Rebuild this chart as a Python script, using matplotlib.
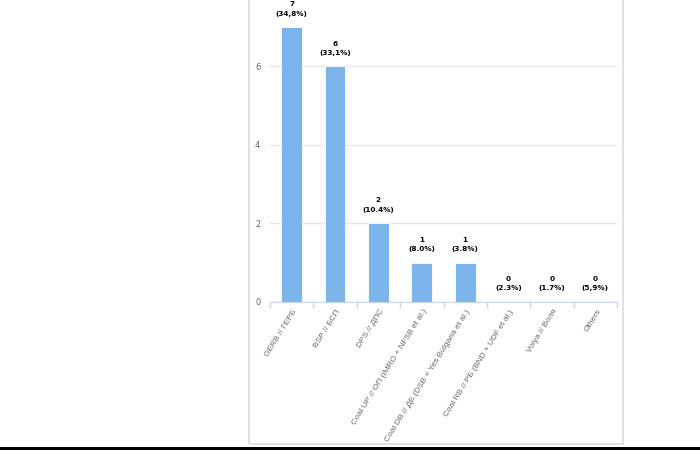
import matplotlib
matplotlib.use("Agg")
import matplotlib.pyplot as plt
import matplotlib.patches as patches
import matplotlib.transforms as mtransforms

# seats per party
parties = ["GERB // ГЕРБ", "BSP // БСП", "DPS // ДПС",
           "Coal UP // ОП (IMRO + NFSB et al.)",
           "Coal DB // ДБ (DSB + Yes Bulgaria et al.)",
           "Coal RB // РБ (BND + UDF et al.)",
           "Volya // Воля", "Others"]
seats = [7, 6, 2, 1, 1, 0, 0, 0]
shares = ["34,8%", "33,1%", "10.4%", "8.0%", "3.8%", "2.3%", "1.7%", "5,9%"]

W, H = 700, 450
fig = plt.figure(figsize=(7, 4.5), dpi=100)
fig.patch.set_facecolor("white")

# axes placed in pixel units (top of the y range goes above the picture)
ax = fig.add_axes([270 / W, 148.3 / H, 347 / W, 313.6 / H])
ax.set_xlim(-0.5, len(parties) - 0.5)
ax.set_ylim(0, 8)

x = range(len(parties))
ax.bar(x, seats, width=0.48, color="#7cb5ec", edgecolor="white", linewidth=0.6, zorder=3)

# data labels
for i, (v, p) in enumerate(zip(seats, shares)):
    ax.annotate(f"{v}\n({p})", (i, v), xytext=(0, 7.5), textcoords="offset points",
                ha="center", va="bottom", fontsize=5.2, fontweight="bold",
                linespacing=1.7, color="black", zorder=4, annotation_clip=False)

# grid and spines
ax.set_yticks([0, 2, 4, 6])
ax.yaxis.grid(True, color="#e6e6e6", linewidth=1, zorder=0)
ax.axhline(8, color="#e6e6e6", linewidth=1, zorder=0)
for s in ["top", "right", "left"]:
    ax.spines[s].set_visible(False)
ax.spines["bottom"].set_color("#ccd6eb")
ax.spines["bottom"].set_zorder(5)
ax.tick_params(axis="y", length=0, pad=7, labelsize=6, labelcolor="#666666")

# category boundary ticks
ax.set_xticks([i - 0.5 for i in range(len(parties) + 1)], minor=True)
ax.tick_params(axis="x", which="minor", length=4, color="#ccd6eb", width=1)
ax.set_xticks(list(x))
ax.set_xticklabels(parties, rotation=58, ha="right", va="center",
                   rotation_mode="anchor", fontsize=6, color="#666666",
                   family=["Liberation Sans", "DejaVu Sans"])
ax.tick_params(axis="x", which="major", length=0, pad=6)
shift = mtransforms.ScaledTranslation(4 / 100, 0, fig.dpi_scale_trans)
for lbl in ax.get_xticklabels():
    lbl.set_transform(lbl.get_transform() + shift)

# panel border and bottom strip
fig.patches.append(patches.Rectangle((249 / W, 6 / H), (623 - 249) / W, 1.2,
                                     transform=fig.transFigure, fill=False,
                                     edgecolor="#dcdcdc", linewidth=1.2))
fig.patches.append(patches.Rectangle((0, 0), 1, 3.5 / H, transform=fig.transFigure,
                                     facecolor="black", edgecolor="none"))

fig.savefig("out.png", dpi=100)
